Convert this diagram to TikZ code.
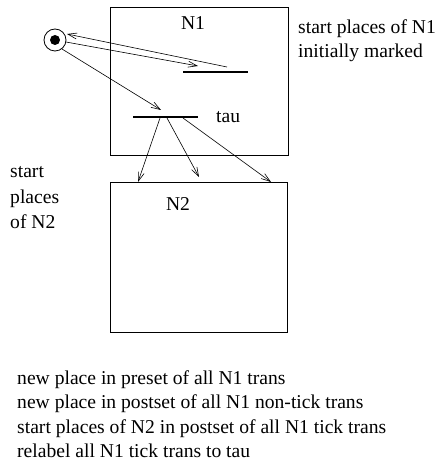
\documentclass[tikz,border=0pt]{standalone}
\usepackage{fontspec}
\setmainfont{Liberation Serif}
\usetikzlibrary{arrows.meta}
\begin{document}
\begin{tikzpicture}[x=1pt,y=-1pt,
  lbl/.style={inner sep=0pt,anchor=base west,font=\fontsize{19.6}{22}\selectfont},
  netbox/.style={draw,line width=0.8pt},
  bar/.style={line width=2.6pt},
  arc/.style={line width=0.6pt,-{Straight Barb[length=9pt,width=6pt,line width=0.6pt]}}]
\useasboundingbox (0,0) rectangle (435,470);
% boxes
\draw[netbox] (110,7) rectangle (288,155);
\draw[netbox] (110,182) rectangle (287,332);
\node[lbl,anchor=base] (n1) at (193,30) {N1};
\node[lbl,anchor=base] (n2) at (178,210) {N2};
% place
\node[draw,circle,minimum size=22pt,inner sep=0pt,line width=0.8pt] (p) at (55,40) {};
\fill (55,40) circle (5);
% transitions
\coordinate (t1a) at (183,72);
\coordinate (t1b) at (248,72);
\draw[bar] (t1a) -- (t1b);
\coordinate (t2a) at (133,117);
\coordinate (t2b) at (198,117);
\draw[bar] (t2a) -- (t2b);
\node[lbl] (tau) at (216,123) {tau};
% arcs
\coordinate (a1s) at (66,42);
\coordinate (a1e) at (198,66);
\draw[arc] (a1s) -- (a1e);
\coordinate (a2s) at (227,67);
\coordinate (a2e) at (67,34);
\draw[arc] (a2s) -- (a2e);
\coordinate (a3s) at (62,49);
\coordinate (a3e) at (161,110);
\draw[arc] (a3s) -- (a3e);
\coordinate (b1s) at (160,118);
\coordinate (b1e) at (138,182);
\draw[arc] (b1s) -- (b1e);
\coordinate (b2s) at (167,118);
\coordinate (b2e) at (199,177);
\draw[arc] (b2s) -- (b2e);
\coordinate (b3s) at (183,118);
\coordinate (b3e) at (271,182);
\draw[arc] (b3s) -- (b3e);
% side texts
\node[lbl] (s1) at (298,34) {start places of N1};
\node[lbl] (s2) at (298,58) {initially marked};
\node[lbl] (l1) at (10,178) {start};
\node[lbl] (l2) at (10,203) {places};
\node[lbl] (l3) at (10,228) {of N2};
% bottom texts
\node[lbl] (c1) at (17,384) {new place in preset of all N1 trans};
\node[lbl] (c2) at (17,408) {new place in postset of all N1 non-tick trans};
\node[lbl] (c3) at (17,433) {start places of N2 in postset of all N1 tick trans};
\node[lbl] (c4) at (17,457) {relabel all N1 tick trans to tau};
\end{tikzpicture}
\end{document}
